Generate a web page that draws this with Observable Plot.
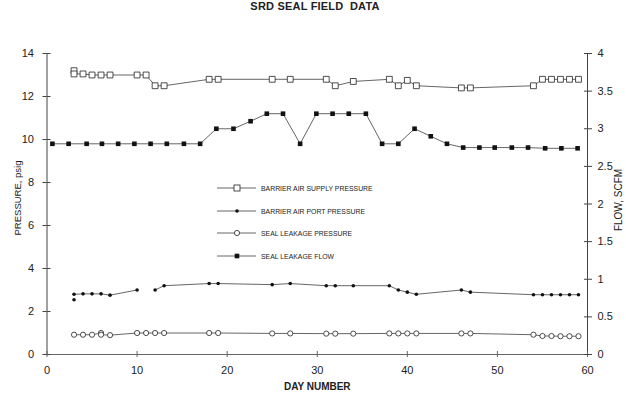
<!DOCTYPE html>
<html>
<head>
<meta charset="utf-8">
<script src="https://cdn.jsdelivr.net/npm/d3@7"></script>
<script src="https://cdn.jsdelivr.net/npm/@observablehq/plot@0.6"></script>
<style>
  html, body { margin: 0; padding: 0; background: #fff; }
  #wrap { position: relative; width: 626px; height: 399px; overflow: hidden; }
  #title { height: 30px; line-height: 30px; text-align: center; font: bold 11px "Liberation Sans", Arial, sans-serif; color: #222; letter-spacing: 0.2px; padding-left: 4px; }
  #legend { position: absolute; left: 0; top: 0; pointer-events: none; }
</style>
</head>
<body>
<div id="wrap">
  <div id="title">SRD SEAL FIELD&nbsp; DATA</div>
  <div id="chart"></div>
  <svg id="legend" width="626" height="399"></svg>
</div>
<script>
// ---- Data ----
const supplyDays = [3, 3, 4, 5, 6, 7, 10, 11, 12, 13, 18, 19, 25, 27, 31, 32, 34, 38, 39, 40, 41, 46, 47, 54, 55, 56, 57, 58, 59];
const supplyVals = [13.2, 13.05, 13.05, 13.0, 13.0, 13.0, 13.0, 13.0, 12.5, 12.5, 12.8, 12.8, 12.8, 12.8, 12.8, 12.5, 12.7, 12.8, 12.5, 12.75, 12.5, 12.4, 12.4, 12.5, 12.8, 12.8, 12.8, 12.8, 12.8];

const portDays = [3, 3, 3, 4, 5, 6, 7, 10, 11, 12, 13, 18, 19, 25, 27, 31, 32, 34, 38, 39, 40, 41, 46, 47, 54, 55, 56, 57, 58, 59];
const portVals = [2.55, null, 2.8, 2.82, 2.82, 2.82, 2.76, 3.0, null, 3.0, 3.2, 3.3, 3.3, 3.25, 3.3, 3.2, 3.2, 3.2, 3.2, 3.0, 2.9, 2.8, 3.0, 2.9, 2.78, 2.78, 2.78, 2.78, 2.78, 2.78];

const leakDays = [3, 4, 5, 6, 6, 7, 10, 11, 12, 13, 18, 19, 25, 27, 31, 32, 34, 38, 39, 40, 41, 46, 47, 54, 55, 56, 57, 58, 59];
const leakVals = [0.92, 0.92, 0.92, 1.0, 0.92, 0.9, 1.0, 1.0, 1.0, 1.0, 1.0, 1.0, 0.98, 0.98, 0.97, 0.97, 0.97, 0.98, 0.98, 0.98, 0.98, 0.98, 0.98, 0.92, 0.86, 0.86, 0.85, 0.85, 0.85];

const flowDays = [0.6, 2.4, 4.4, 6.1, 7.9, 9.7, 11.5, 13.3, 15.2, 17.0, 18.8, 20.7, 22.6, 24.4, 26.2, 28.1, 29.9, 31.7, 33.5, 35.4, 37.2, 39.0, 40.8, 42.6, 44.4, 46.2, 48.0, 49.7, 51.6, 53.4, 55.3, 57.1, 58.9];
const flowVals = [2.8, 2.8, 2.8, 2.8, 2.8, 2.8, 2.8, 2.8, 2.8, 2.8, 3.0, 3.0, 3.1, 3.2, 3.2, 2.8, 3.2, 3.2, 3.2, 3.2, 2.8, 2.8, 3.0, 2.9, 2.8, 2.75, 2.75, 2.75, 2.75, 2.75, 2.74, 2.74, 2.74];

const dayTicks = [0, 10, 20, 30, 40, 50, 60];
const pressureTicks = [0, 2, 4, 6, 8, 10, 12, 14];
const flowTicks = [0, 0.5, 1, 1.5, 2, 2.5, 3, 3.5, 4];

const seriesNames = ["BARRIER AIR SUPPLY PRESSURE", "BARRIER AIR PORT PRESSURE", "SEAL  LEAKAGE PRESSURE", "SEAL  LEAKAGE FLOW"];

// ---- Build tables ----
const PMAX = 14, FMAX = 4, k = PMAX / FMAX;
const supply = supplyDays.map((d, i) => ({day: d, v: supplyVals[i]}));
const port = portDays.map((d, i) => ({day: d, v: portVals[i]}));
const leak = leakDays.map((d, i) => ({day: d, v: leakVals[i]}));
const flow = flowDays.map((d, i) => ({day: d, v: flowVals[i] * k}));

const ink = "#222";
const lineInk = "#555";

const chart = Plot.plot({
  width: 626,
  height: 369,
  marginTop: 23,
  marginBottom: 45,
  marginLeft: 46.5,
  marginRight: 39,
  x: {domain: [0, 60]},
  y: {domain: [0, PMAX]},
  style: {fontFamily: "'Liberation Sans', Arial, sans-serif", fontSize: "11px", color: ink, background: "white"},
  marks: [
    // frame lines
    Plot.ruleX([0], {stroke: "#444", strokeWidth: 1}),
    Plot.ruleX([60], {stroke: "#444", strokeWidth: 1}),
    Plot.ruleY([0], {stroke: "#666", strokeWidth: 1}),
    // axes
    Plot.axisX({ticks: dayTicks, tickSize: 3, tickPadding: 9, label: null, stroke: "#666"}),
    Plot.axisX({ticks: dayTicks, tickSize: -3, tickFormat: () => "", label: null, stroke: "#666"}),
    Plot.axisY({ticks: pressureTicks, anchor: "left", tickSize: 4, tickPadding: 9, label: null, stroke: "#444"}),
    Plot.axisY({ticks: pressureTicks, anchor: "left", tickSize: -4, tickFormat: () => "", label: null, stroke: "#444"}),
    Plot.axisY({ticks: flowTicks.map(t => t * k), anchor: "right", tickSize: 4, tickPadding: 6, label: null, stroke: "#444",
      tickFormat: d => String(+(d / k).toFixed(2))}),
    Plot.axisY({ticks: flowTicks.map(t => t * k), anchor: "right", tickSize: -4, tickFormat: () => "", label: null, stroke: "#444"}),
    // axis titles
    Plot.text(["DAY NUMBER"], {frameAnchor: "bottom", textAnchor: "middle", dy: 35, fontSize: 10, fontWeight: "bold", fill: ink}),
    Plot.text(["PRESSURE, psig"], {frameAnchor: "left", textAnchor: "middle", rotate: -90, dx: -29, dy: -6, fontSize: 9.5, fill: ink}),
    Plot.text(["FLOW, SCFM"], {frameAnchor: "right", textAnchor: "middle", rotate: -90, dx: 31, dy: -4, fontSize: 10, fill: ink}),
    // series
    Plot.line(supply, {x: "day", y: "v", stroke: lineInk, strokeWidth: 0.9}),
    Plot.dot(supply, {x: "day", y: "v", symbol: "square", r: 3.3, stroke: ink, strokeWidth: 0.8, fill: "white"}),
    Plot.line(port, {x: "day", y: "v", stroke: lineInk, strokeWidth: 0.9}),
    Plot.dot(port, {x: "day", y: "v", r: 1.8, fill: "#111", stroke: null}),
    Plot.line(leak, {x: "day", y: "v", stroke: lineInk, strokeWidth: 0.9}),
    Plot.dot(leak, {x: "day", y: "v", r: 2.6, stroke: ink, strokeWidth: 0.8, fill: "white"}),
    Plot.line(flow, {x: "day", y: "v", stroke: lineInk, strokeWidth: 0.9}),
    Plot.dot(flow, {x: "day", y: "v", symbol: "square", r: 2.6, fill: "#111", stroke: null})
  ]
});
document.getElementById("chart").appendChild(chart);

// ---- Legend overlay ----
const lg = d3.select("#legend");
const rows = [188, 211, 233, 256];
const markers = [
  g => g.append("rect").attr("x", -3).attr("y", -3).attr("width", 6).attr("height", 6).attr("fill", "white").attr("stroke", ink).attr("stroke-width", 0.8),
  g => g.append("circle").attr("r", 1.8).attr("fill", "#111"),
  g => g.append("circle").attr("r", 2.6).attr("fill", "white").attr("stroke", ink).attr("stroke-width", 0.8),
  g => g.append("rect").attr("x", -2.3).attr("y", -2.3).attr("width", 4.6).attr("height", 4.6).attr("fill", "#111")
];
seriesNames.forEach((name, i) => {
  const g = lg.append("g").attr("transform", `translate(0,${rows[i]})`);
  g.append("line").attr("x1", 217).attr("x2", 256).attr("y1", 0).attr("y2", 0).attr("stroke", lineInk).attr("stroke-width", 0.9);
  markers[i](g.append("g").attr("transform", "translate(237,0)"));
  g.append("text").attr("transform", "translate(261,0) scale(0.86,1)").attr("dy", "0.35em")
    .attr("font-family", "'Liberation Sans', Arial, sans-serif")
    .attr("font-size", 8).attr("fill", ink).text(name);
});
</script>
</body>
</html>
